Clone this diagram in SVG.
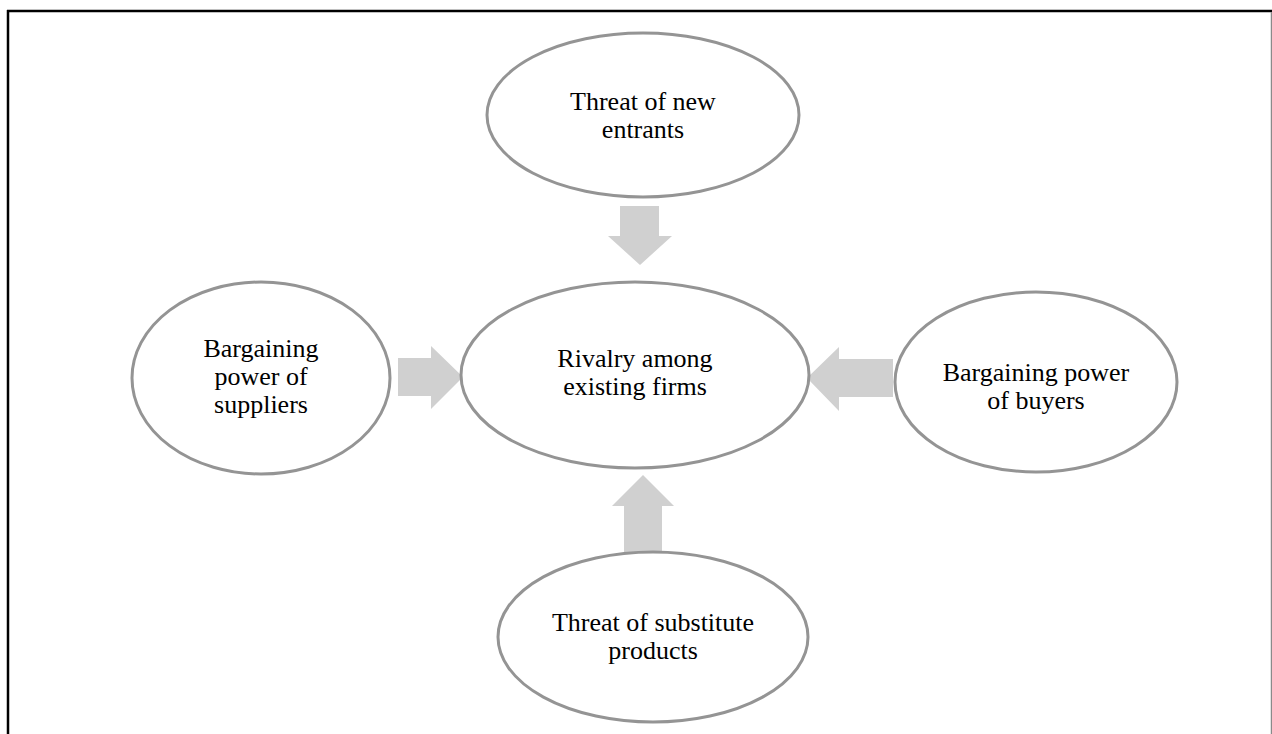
<svg xmlns="http://www.w3.org/2000/svg" width="1272" height="734" viewBox="0 0 1272 734">
  <style>
    .node ellipse { fill: #ffffff; stroke: #949494; stroke-width: 3; }
    .node text { font-family: "Liberation Serif", "Times New Roman", serif; font-size: 26px; fill: #000000; text-anchor: middle; }
    .arrow { fill: #d0d0d0; stroke: none; }
  </style>
  <rect width="1272" height="734" fill="#ffffff"/>
  <!-- frame -->
  <line x1="7" y1="11" x2="1272" y2="11" stroke="#000000" stroke-width="2.5"/>
  <line x1="8" y1="10" x2="8" y2="734" stroke="#000000" stroke-width="2.5"/>
  <line x1="1271.5" y1="12" x2="1271.5" y2="734" stroke="#8a8a8a" stroke-width="1.5"/>

  <!-- block arrows pointing at the central force -->
  <g id="connectors">
    <polygon class="arrow" points="620,206 659,206 659,236 672,236 640,265 608,236 620,236"/>
    <polygon class="arrow" points="398,358 431,358 431,346 463,377 431,409 431,396 398,396"/>
    <polygon class="arrow" points="893,359 839,359 839,347 807,378 839,411 839,397 893,397"/>
    <polygon class="arrow" points="624,556 624,506 612,506 643,475 674,506 662,506 662,556"/>
  </g>

  <g id="node-new-entrants" class="node">
    <ellipse cx="643" cy="115" rx="156" ry="82"/>
    <text x="643" y="110">Threat of new</text>
    <text x="643" y="138">entrants</text>
  </g>

  <g id="node-rivalry" class="node">
    <ellipse cx="635" cy="375" rx="174" ry="93"/>
    <text x="635" y="367">Rivalry among</text>
    <text x="635" y="395">existing firms</text>
  </g>

  <g id="node-suppliers" class="node">
    <ellipse cx="261" cy="378" rx="129" ry="96"/>
    <text x="261" y="357">Bargaining</text>
    <text x="261" y="385">power of</text>
    <text x="261" y="413">suppliers</text>
  </g>

  <g id="node-buyers" class="node">
    <ellipse cx="1036" cy="382" rx="141" ry="90"/>
    <text x="1036" y="381">Bargaining power</text>
    <text x="1036" y="409">of buyers</text>
  </g>

  <g id="node-substitutes" class="node">
    <ellipse cx="653" cy="637" rx="155" ry="85"/>
    <text x="653" y="631">Threat of substitute</text>
    <text x="653" y="659">products</text>
  </g>
</svg>
